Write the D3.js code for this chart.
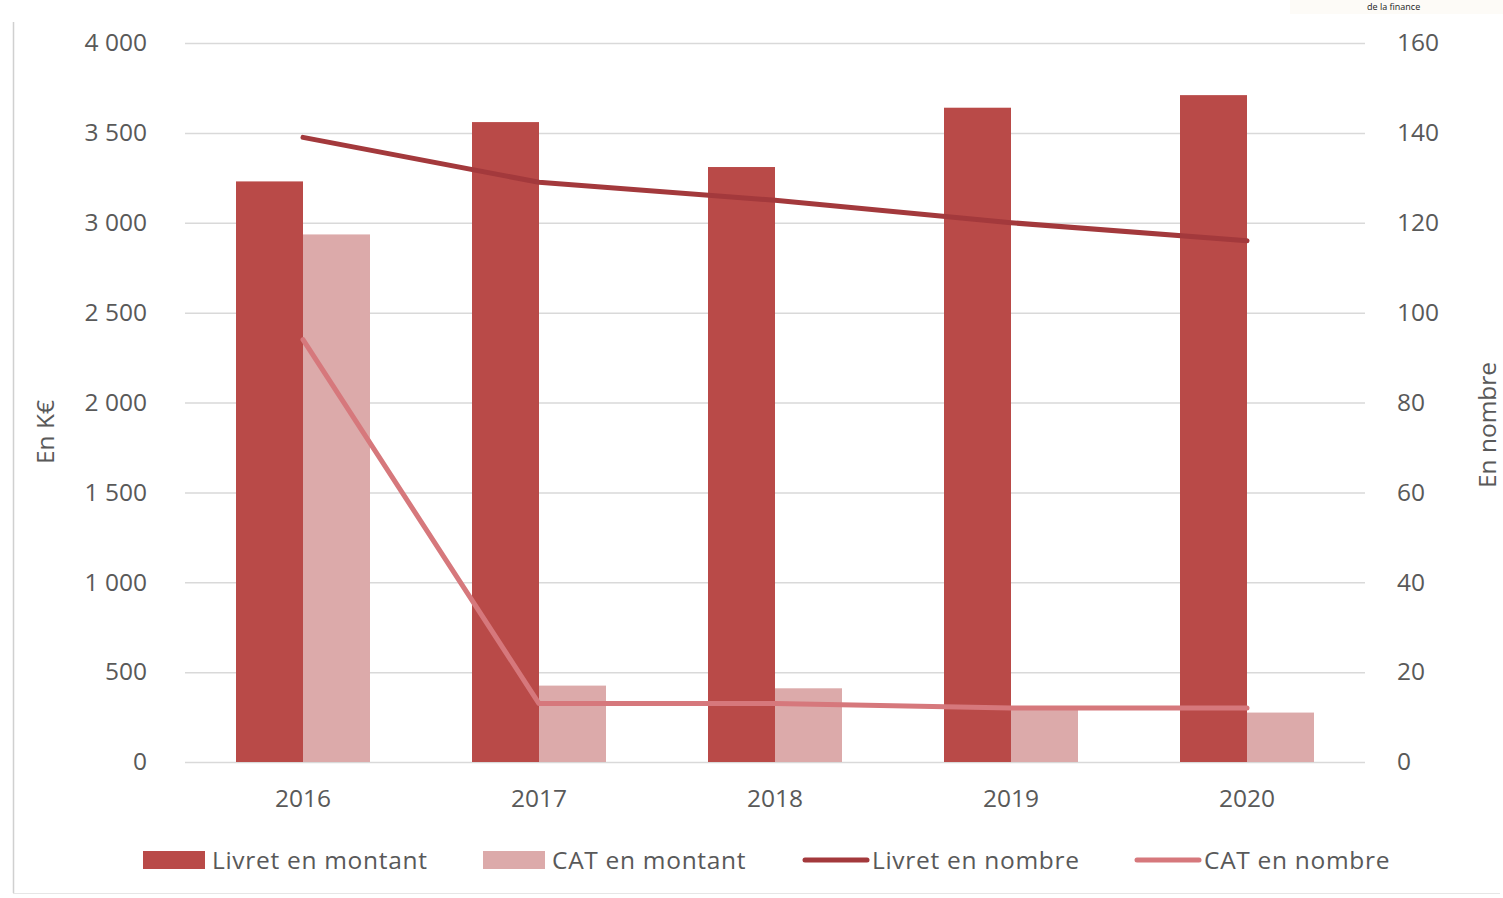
<!DOCTYPE html>
<html>
<head>
<meta charset="utf-8">
<script src="https://cdn.jsdelivr.net/npm/d3@7"></script>
<style>
  html, body { margin: 0; padding: 0; background: #ffffff; }
  svg { display: block; }
  text { font-family: "Open Sans", "DejaVu Sans", sans-serif; }
</style>
</head>
<body>
<svg id="chart" width="1503" height="898"></svg>
<script>
// Années
const years = ["2016", "2017", "2018", "2019", "2020"];
// Montants (K€) – axe de gauche
const livretMontant = [3230, 3560, 3310, 3640, 3710];
const catMontant = [2935, 425, 410, 310, 275];
// Nombres – axe de droite
const livretNombre = [139, 129, 125, 120, 116];
const catNombre = [94, 13, 13, 12, 12];
// Graduations
const leftTicks = [0, 500, 1000, 1500, 2000, 2500, 3000, 3500, 4000];
const rightTicks = [0, 20, 40, 60, 80, 100, 120, 140, 160];
const seriesNames = ["Livret en montant", "CAT en montant", "Livret en nombre", "CAT en nombre"];

const colors = {
  livretBar: "#b94a48",
  catBar: "#dcaaaa",
  livretLine: "#a3393c",
  catLine: "#d6787c",
  grid: "#d9d9d9",
  text: "#595959"
};
const fontSize = 24.5;

const svg = d3.select("#chart");
const plot = { left: 185, right: 1365, top: 43, bottom: 762 };

// Cadre extérieur
svg.append("line").attr("x1", 13.5).attr("x2", 13.5).attr("y1", 22).attr("y2", 893)
  .attr("stroke", "#d0d0d0").attr("stroke-width", 1.5);
svg.append("line").attr("x1", 13).attr("x2", 1500).attr("y1", 893.5).attr("y2", 893.5)
  .attr("stroke", "#e6e6e6").attr("stroke-width", 1);

// Source en haut à droite
svg.append("rect").attr("x", 1290).attr("y", 0).attr("width", 213).attr("height", 14).attr("fill", "#fdfbf7");
svg.append("text").attr("x", 1367).attr("y", 10).attr("font-size", 9).attr("fill", "#222")
  .text("de la finance");

const x = d3.scaleBand().domain(years).range([plot.left, plot.right]).paddingInner(0).paddingOuter(0);
const yL = d3.scaleLinear().domain([0, 4000]).range([plot.bottom, plot.top]);
const yR = d3.scaleLinear().domain([0, 160]).range([plot.bottom, plot.top]);

const barW = 67;

// Grille
svg.append("g")
  .attr("transform", `translate(${plot.left},0)`)
  .call(d3.axisLeft(yL).tickValues(leftTicks).tickSize(-(plot.right - plot.left)).tickFormat(""))
  .call(g => g.select(".domain").remove())
  .call(g => g.selectAll("line").attr("stroke", colors.grid).attr("stroke-width", 1.5));

const styleTicks = g => g.selectAll("text").attr("fill", colors.text).attr("font-size", fontSize)
  .style("font-family", "'Open Sans', sans-serif");

// Axe gauche
svg.append("g")
  .attr("transform", `translate(${plot.left},0)`)
  .call(d3.axisLeft(yL).tickValues(leftTicks).tickSize(0).tickPadding(38)
    .tickFormat(v => d3.format(",")(v).replace(/,/g, " ")))
  .call(g => g.select(".domain").remove())
  .call(styleTicks);

// Axe droit
svg.append("g")
  .attr("transform", `translate(${plot.right},0)`)
  .call(d3.axisRight(yR).tickValues(rightTicks).tickSize(0).tickPadding(32))
  .call(g => g.select(".domain").remove())
  .call(styleTicks);

// Axe des abscisses
svg.append("g")
  .attr("transform", `translate(0,${plot.bottom})`)
  .call(d3.axisBottom(x).tickSize(0).tickPadding(28))
  .call(g => g.select(".domain").remove())
  .call(styleTicks);

// Titres des axes
svg.append("text").attr("transform", "translate(54,432) rotate(-90)")
  .attr("text-anchor", "middle").attr("font-size", fontSize).attr("fill", colors.text).text("En K€");
svg.append("text").attr("transform", "translate(1496,425) rotate(-90)")
  .attr("text-anchor", "middle").attr("font-size", fontSize).attr("fill", colors.text).text("En nombre");

// Barres
const center = d => x(d) + x.bandwidth() / 2;
svg.append("g").selectAll("rect").data(years).join("rect")
  .attr("x", d => center(d) - barW)
  .attr("y", (d, i) => yL(livretMontant[i]))
  .attr("width", barW)
  .attr("height", (d, i) => yL(0) - yL(livretMontant[i]))
  .attr("fill", colors.livretBar);
svg.append("g").selectAll("rect").data(years).join("rect")
  .attr("x", d => center(d))
  .attr("y", (d, i) => yL(catMontant[i]))
  .attr("width", barW)
  .attr("height", (d, i) => yL(0) - yL(catMontant[i]))
  .attr("fill", colors.catBar);

// Courbes
const line = d3.line().x(d => center(d[0])).y(d => yR(d[1]));
svg.append("path").datum(years.map((y, i) => [y, livretNombre[i]]))
  .attr("d", line).attr("fill", "none").attr("stroke", colors.livretLine)
  .attr("stroke-width", 5).attr("stroke-linecap", "round").attr("stroke-linejoin", "round");
svg.append("path").datum(years.map((y, i) => [y, catNombre[i]]))
  .attr("d", line).attr("fill", "none").attr("stroke", colors.catLine)
  .attr("stroke-width", 5).attr("stroke-linecap", "round").attr("stroke-linejoin", "round");

// Légende
const legend = svg.append("g").attr("transform", "translate(0,860)");
const legendItems = [
  { name: seriesNames[0], type: "rect", color: colors.livretBar, x: 143 },
  { name: seriesNames[1], type: "rect", color: colors.catBar, x: 483 },
  { name: seriesNames[2], type: "line", color: colors.livretLine, x: 803 },
  { name: seriesNames[3], type: "line", color: colors.catLine, x: 1135 }
];
legendItems.forEach(it => {
  if (it.type === "rect") {
    legend.append("rect").attr("x", it.x).attr("y", -9).attr("width", 62).attr("height", 18).attr("fill", it.color);
  } else {
    legend.append("line").attr("x1", it.x + 2).attr("x2", it.x + 64).attr("y1", 0).attr("y2", 0)
      .attr("stroke", it.color).attr("stroke-width", 5).attr("stroke-linecap", "round");
  }
  legend.append("text").attr("x", it.x + 69).attr("y", 0).attr("dy", "0.35em")
    .attr("font-size", fontSize).attr("letter-spacing", 0.7).attr("fill", colors.text).text(it.name);
});
</script>
</body>
</html>
